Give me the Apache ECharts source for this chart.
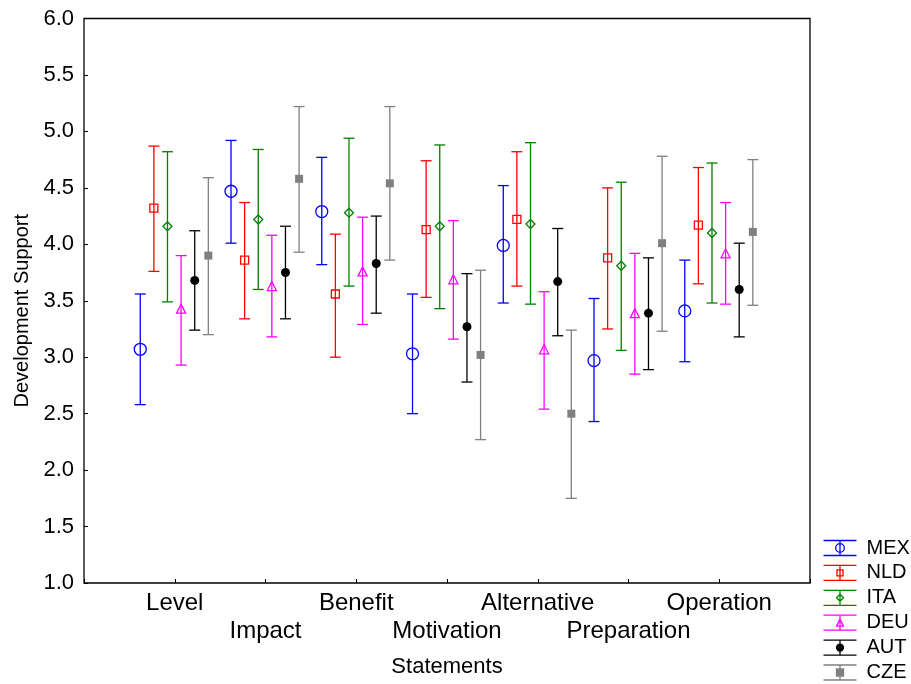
<!DOCTYPE html>
<html>
<head>
<meta charset="utf-8">
<script src="https://cdn.jsdelivr.net/npm/echarts@6/dist/echarts.min.js"></script>
<style>
  html, body { margin: 0; padding: 0; background: #fff; }
  #root { width: 911px; height: 684px; }
</style>
</head>
<body>
<div id="root"></div>
<script>
// statements on the x axis, countries as series
var statements = ['Level', 'Impact', 'Benefit', 'Motivation', 'Alternative', 'Preparation', 'Operation'];
var countries = ['MEX', 'NLD', 'ITA', 'DEU', 'AUT', 'CZE'];
var yTicks = [1.0, 1.5, 2.0, 2.5, 3.0, 3.5, 4.0, 4.5, 5.0, 5.5, 6.0];

// means and interval bounds per country, one value per statement
var meanMEX = [3.07, 4.47, 4.29, 3.03, 3.99, 2.97, 3.41];
var lowMEX  = [2.58, 4.01, 3.82, 2.50, 3.48, 2.43, 2.96];
var highMEX = [3.56, 4.92, 4.77, 3.56, 4.52, 3.52, 3.86];

var meanNLD = [4.32, 3.86, 3.56, 4.13, 4.22, 3.88, 4.17];
var lowNLD  = [3.76, 3.34, 3.00, 3.53, 3.63, 3.25, 3.65];
var highNLD = [4.87, 4.37, 4.09, 4.74, 4.82, 4.50, 4.68];

var meanITA = [4.16, 4.22, 4.28, 4.16, 4.18, 3.81, 4.10];
var lowITA  = [3.49, 3.60, 3.63, 3.43, 3.47, 3.06, 3.48];
var highITA = [4.82, 4.84, 4.94, 4.88, 4.90, 4.55, 4.72];

var meanDEU = [3.43, 3.63, 3.76, 3.69, 3.07, 3.39, 3.92];
var lowDEU  = [2.93, 3.18, 3.29, 3.16, 2.54, 2.85, 3.47];
var highDEU = [3.90, 4.08, 4.24, 4.21, 3.58, 3.92, 4.37];

var meanAUT = [3.68, 3.75, 3.83, 3.27, 3.67, 3.39, 3.60];
var lowAUT  = [3.24, 3.34, 3.39, 2.78, 3.19, 2.89, 3.18];
var highAUT = [4.12, 4.16, 4.25, 3.74, 4.14, 3.88, 4.01];

var meanCZE = [3.90, 4.58, 4.54, 3.02, 2.50, 4.01, 4.11];
var lowCZE  = [3.20, 3.93, 3.86, 2.27, 1.75, 3.23, 3.46];
var highCZE = [4.59, 5.22, 5.22, 3.77, 3.24, 4.78, 4.75];

var means = [meanMEX, meanNLD, meanITA, meanDEU, meanAUT, meanCZE];
var lows = [lowMEX, lowNLD, lowITA, lowDEU, lowAUT, lowCZE];
var highs = [highMEX, highNLD, highITA, highDEU, highAUT, highCZE];

// look of each country
var colors = ['#0000ff', '#ff0000', '#008000', '#ff00ff', '#000000', '#808080'];
var filled = [false, false, false, false, true, true];
var symbols = ['circle', 'rect', 'diamond', 'triangle', 'circle', 'rect'];
var symbolSizes = [12, 8, 9, 9, 9, 8];
var offsets = [-0.38, -0.23, -0.08, 0.07, 0.22, 0.37];

var FONT = '"Liberation Sans", Arial, sans-serif';

// legend glyph: error bar with caps + marker, 33x15 box
function legendIcon(i) {
  var cx = 16.5, cy = 7.5, p = 'M0 0H33M0 15H33M16.5 0V15';
  var s = symbols[i], r;
  if (s === 'circle') {
    r = filled[i] ? 3.5 : 4.3;
    p += 'M' + (cx + r) + ' ' + cy + 'A' + r + ' ' + r + ' 0 1 1 ' + (cx - r) + ' ' + cy +
         'A' + r + ' ' + r + ' 0 1 1 ' + (cx + r) + ' ' + cy + 'Z';
  } else if (s === 'rect') {
    r = filled[i] ? 3.5 : 3;
    p += 'M' + (cx - r) + ' ' + (cy - r) + 'H' + (cx + r) + 'V' + (cy + r) + 'H' + (cx - r) + 'Z';
  } else if (s === 'diamond') {
    r = 3.5;
    p += 'M' + cx + ' ' + (cy - r) + 'L' + (cx + r) + ' ' + cy + 'L' + cx + ' ' + (cy + r) + 'L' + (cx - r) + ' ' + cy + 'Z';
  } else {
    r = 3.5;
    p += 'M' + cx + ' ' + (cy - r) + 'L' + (cx + r) + ' ' + (cy + r) + 'L' + (cx - r) + ' ' + (cy + r) + 'Z';
  }
  return 'path://' + p;
}

var series = [];
countries.forEach(function (c, i) {
  var barData = statements.map(function (s, k) {
    return [k + 1 + offsets[i], means[i][k], lows[i][k], highs[i][k]];
  });
  var pointData = statements.map(function (s, k) {
    return [k + 1 + offsets[i], means[i][k]];
  });
  series.push({
    name: c,
    type: 'custom',
    data: barData,
    itemStyle: { color: colors[i] },
    silent: true,
    renderItem: function (params, api) {
      var x = api.value(0);
      var top = api.coord([x, api.value(3)]);
      var bot = api.coord([x, api.value(2)]);
      var hw = 5.5;
      var st = { stroke: colors[i], lineWidth: 1.3 };
      return {
        type: 'group',
        children: [
          { type: 'line', shape: { x1: top[0], y1: top[1], x2: bot[0], y2: bot[1] }, style: st },
          { type: 'line', shape: { x1: top[0] - hw, y1: top[1], x2: top[0] + hw, y2: top[1] }, style: st },
          { type: 'line', shape: { x1: bot[0] - hw, y1: bot[1], x2: bot[0] + hw, y2: bot[1] }, style: st }
        ]
      };
    }
  });
  series.push({
    name: c,
    type: 'scatter',
    data: pointData,
    symbol: symbols[i],
    symbolSize: symbolSizes[i],
    silent: true,
    itemStyle: {
      color: filled[i] ? colors[i] : 'rgba(0,0,0,0)',
      borderColor: colors[i],
      borderWidth: filled[i] ? 0 : 1.3,
      opacity: 1
    },
    z: 3
  });
});

var myChart = echarts.init(document.getElementById('root'), null, { renderer: 'canvas' });

var option = {
  animation: false,
  backgroundColor: '#ffffff',
  textStyle: { fontFamily: FONT },
  grid: {
    left: 84, right: 101, top: 18.5, bottom: 101,
    show: true, borderColor: '#000', borderWidth: 1.3, backgroundColor: 'transparent'
  },
  legend: {
    orient: 'vertical',
    left: 821,
    top: 538,
    padding: 0,
    itemWidth: 33,
    itemHeight: 15,
    itemGap: 4.9,
    selectedMode: false,
    textStyle: { fontFamily: FONT, fontSize: 20, color: '#000', padding: [0, 0, 0, 5] },
    data: countries.map(function (c, i) {
      return {
        name: c,
        icon: legendIcon(i),
        itemStyle: {
          color: filled[i] ? colors[i] : 'none',
          borderColor: colors[i],
          borderWidth: 1.3
        }
      };
    })
  },
  xAxis: {
    type: 'value',
    min: 0,
    max: 8,
    interval: 1,
    name: 'Statements',
    nameLocation: 'middle',
    nameGap: 73,
    nameTextStyle: { fontFamily: FONT, fontSize: 22, color: '#000' },
    axisLine: { show: false },
    axisTick: { show: true, inside: true, length: 4, lineStyle: { color: '#000' } },
    splitLine: { show: false },
    axisLabel: {
      margin: 6,
      fontFamily: FONT,
      fontSize: 24,
      color: '#000',
      lineHeight: 28,
      formatter: function (v) {
        var k = Math.round(v) - 1;
        if (k < 0 || k >= statements.length) return '';
        return k % 2 === 1 ? '\n' + statements[k] : statements[k];
      }
    }
  },
  yAxis: {
    type: 'value',
    min: yTicks[0],
    max: yTicks[yTicks.length - 1],
    interval: 0.5,
    name: 'Development Support',
    nameLocation: 'middle',
    nameGap: 52,
    nameTextStyle: { fontFamily: FONT, fontSize: 20, color: '#000', padding: [0, 20, 0, 0] },
    axisLine: { show: false },
    axisTick: { show: true, inside: true, length: 4, lineStyle: { color: '#000' } },
    splitLine: { show: false },
    axisLabel: {
      margin: 10,
      fontFamily: FONT,
      fontSize: 22,
      color: '#000',
      formatter: function (v) { return v.toFixed(1); }
    }
  },
  series: series
};

myChart.setOption(option);
</script>
</body>
</html>
